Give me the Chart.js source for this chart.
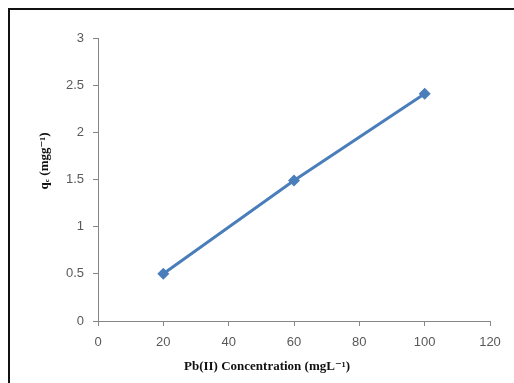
<!DOCTYPE html>
<html>
<head>
<meta charset="utf-8">
<script src="https://cdn.jsdelivr.net/npm/chart.js@4/dist/chart.umd.min.js"></script>
<style>
    body { margin: 0; background: #fff; }
    #wrap { position: relative; width: 514px; height: 383px; overflow: hidden; }
    #frame {
        position: absolute; left: 8px; top: 8px; width: 600px; height: 400px;
        border-left: 2px solid #111; border-top: 2px solid #111;
    }
    canvas { position: absolute; left: 0; top: 0; }
</style>
</head>
<body>
<div id="wrap">
    <canvas id="chart" width="514" height="383"></canvas>
    <div id="frame"></div>
</div>
<script>
const concentrations = [20, 60, 100];
const qeValues = [0.5, 1.49, 2.41];
const xTitle = 'Pb(II) Concentration (mgL\u207B\u00B9)';
const yTitle = 'q\u2091 (mgg\u207B\u00B9)';

const axisColor = '#868686';
const tickColor = '#595959';
const titleFont = 'bold 13px "Liberation Serif", "DejaVu Serif", serif';

// axis titles sit off-centre in the original, so draw them by hand
const axisTitlesPlugin = {
    id: 'axisTitles',
    afterDraw(chart) {
        const ctx = chart.ctx;
        ctx.save();
        ctx.font = titleFont;
        ctx.fillStyle = '#111';
        ctx.textAlign = 'center';
        ctx.textBaseline = 'middle';
        ctx.fillText(xTitle, 267, 367);
        ctx.translate(45, 161);
        ctx.rotate(-Math.PI / 2);
        ctx.fillText(yTitle, 0, 0);
        ctx.restore();
    }
};

const ctx = document.getElementById('chart').getContext('2d');
new Chart(ctx, {
    type: 'line',
    data: {
        datasets: [{
            data: concentrations.map((x, i) => ({ x: x, y: qeValues[i] })),
            borderColor: '#4a7ebb',
            backgroundColor: '#4a7ebb',
            borderWidth: 3,
            pointStyle: 'rectRot',
            pointRadius: 6,
            pointBorderWidth: 0,
            tension: 0
        }]
    },
    options: {
        responsive: false,
        devicePixelRatio: 1,
        animation: false,
        layout: {
            padding: { left: 10, right: 24, top: 38, bottom: 0 }
        },
        plugins: {
            legend: { display: false },
            tooltip: { enabled: false }
        },
        scales: {
            x: {
                type: 'linear',
                min: 0,
                max: 120,
                afterFit: (scale) => { scale.height = 62; },
                ticks: {
                    stepSize: 20,
                    padding: 9,
                    color: tickColor,
                    font: { family: '"Liberation Sans", Arial, sans-serif', size: 13 }
                },
                grid: { drawOnChartArea: false, color: axisColor, tickLength: 5 },
                border: { color: axisColor, width: 1 }
            },
            y: {
                min: 0,
                max: 3,
                afterFit: (scale) => { scale.width = 88; },
                ticks: {
                    stepSize: 0.5,
                    padding: 9,
                    color: tickColor,
                    font: { family: '"Liberation Sans", Arial, sans-serif', size: 13 },
                    callback: (v) => String(v)
                },
                grid: { drawOnChartArea: false, color: axisColor, tickLength: 5 },
                border: { color: axisColor, width: 1 }
            }
        }
    },
    plugins: [axisTitlesPlugin]
});
</script>
</body>
</html>
